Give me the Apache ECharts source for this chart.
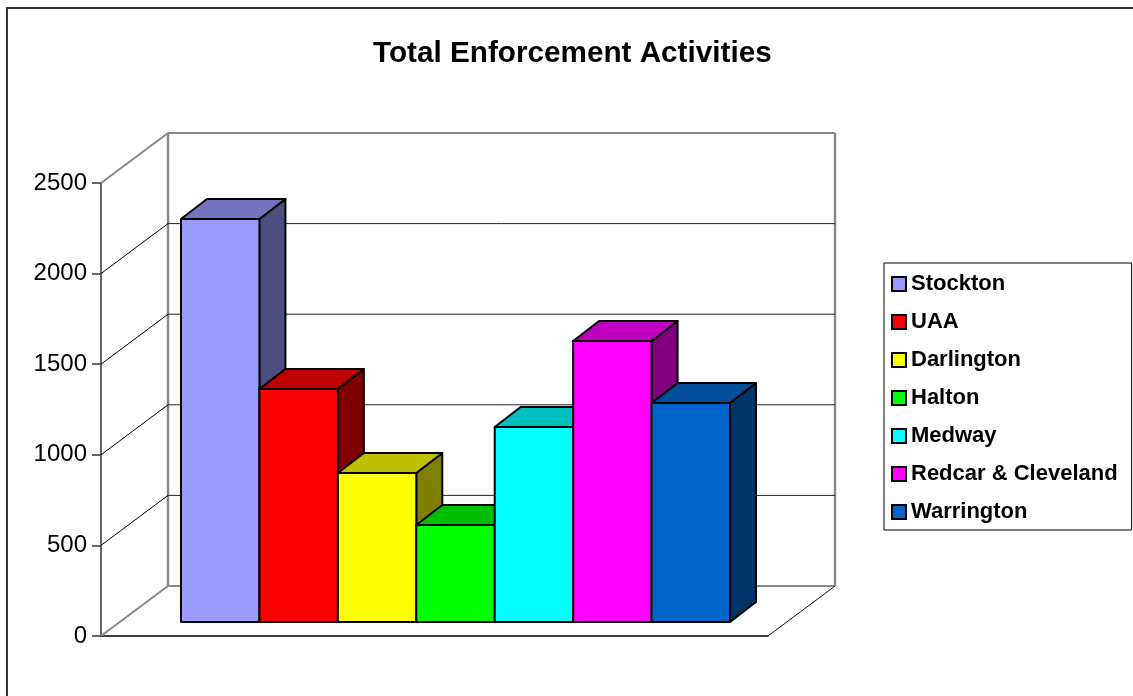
<!DOCTYPE html>
<html>
<head>
<meta charset="utf-8">
<style>html,body{margin:0;padding:0;background:#fff}#c{width:1133px;height:696px}</style>
<script src="https://cdn.jsdelivr.net/npm/echarts@6/dist/echarts.min.js"></script>
</head>
<body>
<div id="c"></div>
<script>
const titleText = 'Total Enforcement Activities';
const categories = ['Stockton', 'UAA', 'Darlington', 'Halton', 'Medway', 'Redcar & Cleveland', 'Warrington'];
const values = [2224, 1286, 822, 535, 1076, 1551, 1209];
const gridTicks = [0, 500, 1000, 1500, 2000, 2500];
const palette = ['#9999FF', '#FF0000', '#FFFF00', '#00FF00', '#00FFFF', '#FF00FF', '#0066CC'];

const FONT = '"Liberation Sans", Arial, sans-serif';
const WALL_DEPTH = [67, -50];
const BAR_DEPTH = [26, -20];

function shade(hex, k) {
  const n = parseInt(hex.slice(1), 16);
  const c = [(n >> 16) & 255, (n >> 8) & 255, n & 255].map(v => Math.round(v * k));
  return 'rgb(' + c.join(',') + ')';
}
function shift(p, d) { return [p[0] + d[0], p[1] + d[1]]; }
function seg(a, b, stroke, w) {
  return { type: 'line', shape: { x1: a[0], y1: a[1], x2: b[0], y2: b[1] }, style: { stroke, lineWidth: w }, silent: true };
}

const wallSeries = {
  type: 'custom', name: 'walls', xAxisIndex: 0, yAxisIndex: 0, z: 1, clip: false, silent: true,
  data: gridTicks.map(t => [0, t]),
  encode: { x: 0, y: 1 },
  renderItem: function (params, api) {
    const v = api.value(1);
    const f0 = api.coord([0, v]), f1 = api.coord([1, v]);
    const b0 = shift(f0, WALL_DEPTH), b1 = shift(f1, WALL_DEPTH);
    const edge = v === gridTicks[0] || v === gridTicks[gridTicks.length - 1];
    const kids = [
      seg(f0, b0, edge ? '#888' : '#000', edge ? 2 : 1),
      seg(b0, b1, edge ? '#888' : '#222', edge ? 2 : 1)
    ];
    if (v === gridTicks[0]) {
      const topF = api.coord([0, gridTicks[gridTicks.length - 1]]);
      const topB = shift(topF, WALL_DEPTH);
      const topR = shift(api.coord([1, gridTicks[gridTicks.length - 1]]), WALL_DEPTH);
      kids.push(seg(b0, topB, '#888', 2.5));
      kids.push(seg(b1, topR, '#888', 2.5));
      kids.push(seg(f1, b1, '#111', 1));
    }
    return { type: 'group', children: kids };
  }
};

const barSeries = categories.map((name, i) => ({
  type: 'custom', name, xAxisIndex: 1, yAxisIndex: 1, z: 5 + i, clip: false,
  itemStyle: { color: palette[i], borderColor: '#000', borderWidth: 2 },
  data: [[name, values[i]]],
  encode: { x: 0, y: 1 },
  renderItem: function (params, api) {
    const top = api.coord([i, api.value(1)]);
    const base = api.coord([i, 0]);
    const w = api.size([1, 0])[0];
    const x0 = top[0] - w / 2, x1 = top[0] + w / 2;
    const tl = [x0, top[1]], tr = [x1, top[1]], br = [x1, base[1]], bl = [x0, base[1]];
    const line = { stroke: '#000', lineWidth: 2, lineJoin: 'round' };
    const poly = (pts, fill) => ({ type: 'polygon', shape: { points: pts }, style: Object.assign({ fill }, line) });
    return {
      type: 'group',
      children: [
        poly([tr, br, shift(br, BAR_DEPTH), shift(tr, BAR_DEPTH)], shade(palette[i], 0.5)),
        poly([tl, tr, shift(tr, BAR_DEPTH), shift(tl, BAR_DEPTH)], shade(palette[i], 0.75)),
        poly([tl, tr, br, bl], palette[i])
      ]
    };
  }
}));

const chart = echarts.init(document.getElementById('c'), null, { renderer: 'canvas' });
chart.setOption({
  animation: false,
  backgroundColor: '#fff',
  title: {
    text: titleText, left: 373, top: 39, padding: 0,
    textStyle: { fontFamily: FONT, fontWeight: 'bold', fontSize: 29.7, color: '#000' }
  },
  legend: {
    orient: 'vertical', left: 884, top: 263,
    padding: [10, 14, 7, 7],
    backgroundColor: '#fff', borderColor: '#000', borderWidth: 1,
    itemWidth: 14, itemHeight: 14, itemGap: 16,
    selectedMode: false,
    textStyle: { fontFamily: FONT, fontWeight: 'bold', fontSize: 22, color: '#000', padding: [0, 0, 4, 0] },
    data: categories.map((name, i) => ({
      name, icon: 'rect',
      itemStyle: { color: palette[i], borderColor: '#000', borderWidth: 2 }
    }))
  },
  grid: [
    { left: 101, top: 183, width: 667, height: 453 },
    { left: 181, top: 169, width: 549, height: 453 }
  ],
  xAxis: [
    {
      type: 'value', gridIndex: 0, min: 0, max: 1,
      axisLabel: { show: false }, axisTick: { show: false }, splitLine: { show: false },
      axisLine: { show: true, lineStyle: { color: '#000', width: 1.5 } }
    },
    { type: 'category', gridIndex: 1, data: categories, show: false }
  ],
  yAxis: [
    {
      type: 'value', gridIndex: 0, min: 0, max: 2500, interval: 500,
      splitLine: { show: false },
      axisLine: { show: true, lineStyle: { color: '#333', width: 1.5 } },
      axisTick: { show: true, length: 9, lineStyle: { color: '#333', width: 1.5 } },
      axisLabel: {
        fontFamily: FONT, fontSize: 24, color: '#000', margin: 14,
        verticalAlign: 'middle', padding: [0, 0, 4, 0],
        formatter: v => String(v)
      }
    },
    { type: 'value', gridIndex: 1, min: 0, max: 2500, interval: 500, show: false }
  ],
  graphic: [{
    type: 'rect', silent: true, z: 100,
    shape: { x: 7, y: 8, width: 1300, height: 900 },
    style: { fill: 'none', stroke: '#333', lineWidth: 2 }
  }],
  series: [wallSeries].concat(barSeries)
});
</script>
</body>
</html>
